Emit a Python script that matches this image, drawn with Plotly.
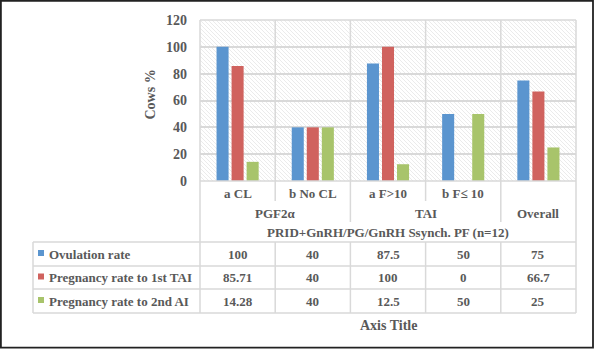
import base64
import plotly.graph_objects as go

# ---------------- data ----------------
subcategories = ["a CL", "b No CL", "a F>10", "b F≤ 10", ""]
groups = ["PGF2α", "PGF2α", "TAI", "TAI", "Overall"]
outer_label = "PRID+GnRH/PG/GnRH Ssynch. PF (n=12)"
series_names = ["Ovulation rate", "Pregnancy rate to 1st TAI", "Pregnancy rate to 2nd AI"]
ovulation = [100, 40, 87.5, 50, 75]
preg_1st = [85.71, 40, 100, 0, 66.7]
preg_2nd = [14.28, 40, 12.5, 50, 25]
value_labels = [
    ["100", "40", "87.5", "50", "75"],
    ["85.71", "40", "100", "0", "66.7"],
    ["14.28", "40", "12.5", "50", "25"],
]
y_ticks = [0, 20, 40, 60, 80, 100, 120]
y_title = "Cows %"
x_title = "Axis Title"

colors = ["#5B95CF", "#D0625E", "#A8C46B"]
grid = "#D9D9D9"
txt = "#595959"
FONT = "Liberation Serif"

# ---------------- layout geometry (pixels) ----------------
W, H = 595, 349
L, R, T, B = 200, 576, 20, 181
ML, MR, MT, MB = L, W - R, T, H - B
n = len(subcategories)


def px_x(p):
    return (p - L) / (R - L)


def px_y(p):
    return (B - p) / (B - T)


def cat_paper(v):
    # category index (linear axis range -0.5..n-0.5) -> paper x
    return (v + 0.5) / n


fig = go.Figure()
xs = list(range(n))
for name, vals, c in zip(series_names, [ovulation, preg_1st, preg_2nd], colors):
    fig.add_trace(go.Bar(x=xs, y=vals, name=name, marker=dict(color=c, line=dict(width=0))))

shapes = []
line = dict(color=grid, width=1.5)

# plot-area border (top) and bottom axis line
shapes.append(dict(type="line", xref="paper", yref="paper", x0=0, x1=1, y0=1, y1=1, line=line))
shapes.append(dict(type="line", xref="paper", yref="paper", x0=0, x1=1, y0=0, y1=0, line=line))
# left & right edges from top of plot down to table bottom
for xv in (0, 1):
    shapes.append(dict(type="line", xref="paper", yref="paper", x0=xv, x1=xv,
                       y0=1, y1=px_y(313), line=line))
# category dividers
for i in range(n - 1):
    same = groups[i] == groups[i + 1]
    end = 201 if same else 222
    xv = cat_paper(i + 0.5)
    shapes.append(dict(type="line", xref="paper", yref="paper", x0=xv, x1=xv,
                       y0=1, y1=px_y(end), line=line, layer="below"))
    shapes.append(dict(type="line", xref="paper", yref="paper", x0=xv, x1=xv,
                       y0=px_y(242), y1=px_y(313), line=line))
# data table horizontal lines and left edge
for yp in (242, 266, 289, 313):
    shapes.append(dict(type="line", xref="paper", yref="paper", x0=px_x(33), x1=1,
                       y0=px_y(yp), y1=px_y(yp), line=line))
shapes.append(dict(type="line", xref="paper", yref="paper", x0=px_x(33), x1=px_x(33),
                   y0=px_y(242), y1=px_y(313), line=line))
# legend keys
row_centers = [254, 277.5, 301]
for c, yc in zip(colors, row_centers):
    shapes.append(dict(type="rect", xref="paper", yref="paper",
                       x0=px_x(38), x1=px_x(44), y0=px_y(yc - 4), y1=px_y(yc + 2),
                       fillcolor=c, line=dict(width=0)))
# outer frame
shapes.append(dict(type="rect", xref="paper", yref="paper",
                   x0=px_x(0.9), x1=px_x(593), y0=px_y(0.9), y1=px_y(347.6),
                   line=dict(color="#222222", width=1.8)))

# ---------------- annotations ----------------
ann = []
f = dict(family=FONT, size=13, color=txt, weight="bold")
# subcategory labels
for i, s in enumerate(subcategories):
    if s:
        ann.append(dict(x=i, xref="x", y=px_y(193.5), yref="paper", text=s, showarrow=False,
                        font=f, xanchor="center", yanchor="middle"))
# group labels (centered over their categories)
seen = []
for g in groups:
    if g not in seen:
        seen.append(g)
for g in seen:
    idx = [i for i, gg in enumerate(groups) if gg == g]
    ann.append(dict(x=sum(idx) / len(idx), xref="x", y=px_y(213), yref="paper", text=g,
                    showarrow=False, font=f, xanchor="center", yanchor="middle"))
# outer label
ann.append(dict(x=(n - 1) / 2, xref="x", y=px_y(232.5), yref="paper", text=outer_label,
                showarrow=False, font=f, xanchor="center", yanchor="middle"))
# table rows
for r, (name, labels) in enumerate(zip(series_names, value_labels)):
    yc = px_y(row_centers[r])
    ann.append(dict(x=px_x(47), xref="paper", y=yc, yref="paper", text=name, showarrow=False,
                    font=f, xanchor="left", yanchor="middle"))
    for i, lab in enumerate(labels):
        ann.append(dict(x=i, xref="x", y=yc, yref="paper", text=lab, showarrow=False,
                        font=f, xanchor="center", yanchor="middle"))
# axis titles
ann.append(dict(x=0.5, xref="paper", y=px_y(325), yref="paper", text=x_title, showarrow=False,
                font=dict(family=FONT, size=14, color=txt, weight="bold"),
                xanchor="center", yanchor="middle"))
ann.append(dict(x=px_x(150), xref="paper", y=px_y(94.5), yref="paper", text=y_title,
                showarrow=False, textangle=-90,
                font=dict(family=FONT, size=14, color=txt, weight="bold"),
                xanchor="center", yanchor="middle"))

# faint hatched plot-area background
pw, ph = R - L, B - T
svg = (
    f'<svg xmlns="http://www.w3.org/2000/svg" width="{pw}" height="{ph}">'
    '<defs><pattern id="p" width="4" height="4" patternUnits="userSpaceOnUse">'
    '<path d="M0,0 l4,4 M-1,3 l2,2 M3,-1 l2,2" stroke="#E6E6E6" stroke-width="0.8"/>'
    '</pattern></defs><rect width="100%" height="100%" fill="white"/>'
    '<rect width="100%" height="100%" fill="url(#p)"/></svg>'
)
src = "data:image/svg+xml;base64," + base64.b64encode(svg.encode()).decode()

fig.update_layout(
    width=W, height=H,
    margin=dict(l=ML, r=MR, t=MT, b=MB, pad=0),
    paper_bgcolor="white", plot_bgcolor="white",
    showlegend=False,
    barmode="group", bargap=0.4, bargroupgap=0.2,
    font=dict(family=FONT, color=txt),
    xaxis=dict(range=[-0.5, n - 0.5], showticklabels=False, showgrid=False,
               zeroline=False, showline=False, ticks=""),
    yaxis=dict(range=[0, 120], tickvals=y_ticks, showgrid=True, gridcolor=grid, gridwidth=1.5,
               zeroline=False, showline=False, ticks="", ticklabelstandoff=12,
               tickfont=dict(family=FONT, size=14, color=txt, weight="bold")),
    shapes=shapes,
    annotations=ann,
    images=[dict(source=src, xref="paper", yref="paper", x=0, y=1, sizex=1, sizey=1,
                 xanchor="left", yanchor="top", sizing="stretch", layer="below")],
)

fig.write_html("out.html")
